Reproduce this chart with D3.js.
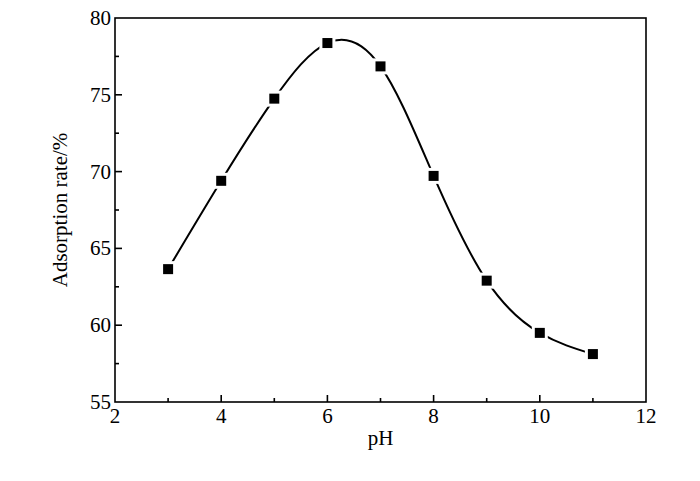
<!DOCTYPE html>
<html><head><meta charset="utf-8">
<script src="https://cdn.jsdelivr.net/npm/d3@7"></script>
<style>body{margin:0;background:#fff}svg{display:block}text{font-family:"Liberation Serif","Times New Roman",serif;fill:#000}</style>
</head><body><svg id="c" width="700" height="481"></svg>
<script>
const pH = [3,4,5,6,7,8,9,10,11];
const rate = [63.65,69.4,74.75,78.37,76.85,69.72,62.9,59.5,58.12];
const xTicks = [2,4,6,8,10,12];
const yTicks = [55,60,65,70,75,80];
const xLabel = "pH";
const yLabel = "Adsorption rate/%";

const svg = d3.select("#c");
const L=115,R=646,T=18,B=402;
const x = d3.scaleLinear().domain([2,12]).range([L,R]);
const y = d3.scaleLinear().domain([55,80]).range([B,T]);

svg.append("rect").attr("x",L).attr("y",T).attr("width",R-L).attr("height",B-T)
  .attr("fill","none").attr("stroke","#000").attr("stroke-width",1.6);

const g = svg.append("g").attr("stroke","#000").attr("stroke-width",1.6);
d3.range(2,12.01,1).forEach(v=>{
  const len = (v%2===0)?7:4;
  if(v>2 && v<12) g.append("line").attr("x1",x(v)).attr("x2",x(v)).attr("y1",B).attr("y2",B-len);
});
d3.range(55,80.01,2.5).forEach(v=>{
  const len = (v%5===0)?7:4;
  if(v>55 && v<80) g.append("line").attr("x1",L).attr("x2",L+len).attr("y1",y(v)).attr("y2",y(v));
});

svg.selectAll(".xt").data(xTicks).enter().append("text")
  .attr("x",d=>x(d)).attr("y",B+21).attr("text-anchor","middle").attr("font-size",21).text(d=>d);
svg.selectAll(".yt").data(yTicks).enter().append("text")
  .attr("x",L-4).attr("y",d=>y(d)+7).attr("text-anchor","end").attr("font-size",21).text(d=>d);

svg.append("text").attr("x",(L+R)/2).attr("y",445).attr("text-anchor","middle").attr("font-size",21).text(xLabel);
svg.append("text").attr("transform",`translate(67,${(T+B)/2}) rotate(-90)`).attr("text-anchor","middle").attr("font-size",21).text(yLabel);

const data = pH.map((d,i)=>[d,rate[i]]);
const line = d3.line().x(d=>x(d[0])).y(d=>y(d[1])).curve(d3.curveNatural);
svg.append("path").attr("d",line(data)).attr("fill","none").attr("stroke","#000").attr("stroke-width",2);

svg.selectAll(".m").data(data).enter().append("rect")
  .attr("x",d=>x(d[0])-5).attr("y",d=>y(d[1])-5).attr("width",10).attr("height",10)
  .attr("fill","#000").attr("stroke","#fff").attr("stroke-width",6).attr("paint-order","stroke");
</script></body></html>
